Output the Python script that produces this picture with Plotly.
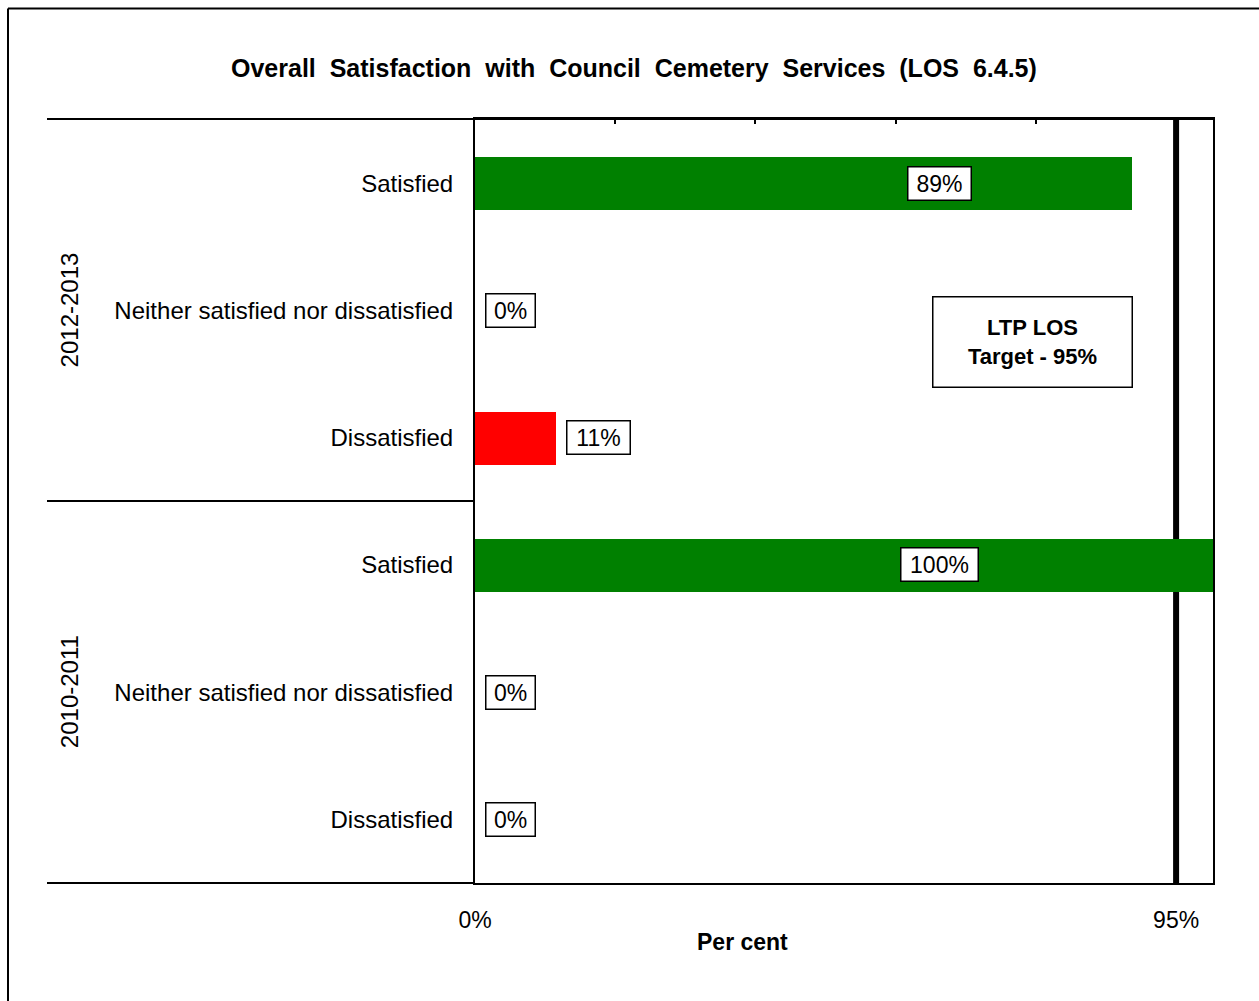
import plotly.graph_objects as go

# ---- data ----
years = ["2012-2013", "2010-2011"]
categories = ["Satisfied", "Neither satisfied nor dissatisfied", "Dissatisfied"]
values_2012_2013 = [89, 0, 11]
values_2010_2011 = [100, 0, 0]
target = 95
x_ticks = [0, 95]
x_tick_labels = ["0%", "95%"]
minor_top_ticks = [19, 38, 57, 76]

W, H = 1259, 1001
FONT = "Liberation Sans, Arial, sans-serif"


def px(x):
    return x / W


def py(y):
    return 1 - y / H


cat_colors = {"Satisfied": "#008000",
              "Neither satisfied nor dissatisfied": "#008000",
              "Dissatisfied": "#FF0000"}

series = {years[0]: values_2012_2013, years[1]: values_2010_2011}

rows_y, rows_x, rows_c, rows_lab = [], [], [], []
idx = 0
for yr in years:
    for cat, v in zip(categories, series[yr]):
        rows_y.append(idx)
        rows_x.append(v)
        rows_c.append(cat_colors[cat])
        rows_lab.append(cat)
        idx += 1

fig = go.Figure()
fig.add_trace(go.Bar(
    x=rows_x, y=rows_y, orientation="h", width=0.416,
    marker=dict(color=rows_c, line=dict(width=0)),
    hoverinfo="x+y", showlegend=False,
))
# invisible trace to activate top axis
fig.add_trace(go.Scatter(x=[0], y=[0], xaxis="x2", mode="markers",
                         marker=dict(opacity=0), showlegend=False, hoverinfo="skip"))

x0d, x1d = px(475), px(1213)
y0d, y1d = py(883), py(119.5)

fig.update_layout(
    width=W, height=H,
    margin=dict(l=0, r=0, t=0, b=0, autoexpand=False),
    paper_bgcolor="white", plot_bgcolor="white",
    font=dict(family=FONT, color="black"),
    bargap=0,
    xaxis=dict(domain=[x0d, x1d], range=[0, 100], tickvals=x_ticks, ticktext=x_tick_labels,
               showgrid=False, zeroline=False, showline=True, linecolor="black", linewidth=2,
               ticks="", ticklabelstandoff=15, tickfont=dict(size=23, family=FONT),
               automargin=False),
    xaxis2=dict(overlaying="x", side="top", range=[0, 100], tickvals=minor_top_ticks,
                showticklabels=False, ticks="inside", ticklen=4, tickwidth=1.5, tickcolor="black",
                showgrid=False, zeroline=False, showline=True, linecolor="black", linewidth=3,
                anchor="y", automargin=False),
    yaxis=dict(domain=[y0d, y1d], range=[5.5, -0.5], tickvals=rows_y, ticktext=rows_lab,
               showgrid=False, zeroline=False, showline=True, linecolor="black", linewidth=2,
               mirror=True, ticks="", ticklabelstandoff=15, tickfont=dict(size=24, family=FONT),
               automargin=False),
)

shapes = []
# target line (behind bars)
shapes.append(dict(type="line", xref="x", yref="paper", x0=target, x1=target, y0=y0d, y1=y1d,
                   line=dict(color="black", width=6), layer="below"))
# group divider lines extending left
for yy in (119, 501, 883):
    shapes.append(dict(type="line", xref="paper", yref="paper", x0=px(47), x1=px(475),
                       y0=py(yy), y1=py(yy), line=dict(color="black", width=2)))
# outer chart border
shapes.append(dict(type="line", xref="paper", yref="paper", x0=px(8), x1=px(8), y0=py(8.5), y1=0,
                   line=dict(color="black", width=2)))
shapes.append(dict(type="line", xref="paper", yref="paper", x0=px(8), x1=1, y0=py(8.5), y1=py(8.5),
                   line=dict(color="black", width=2)))
fig.update_layout(shapes=shapes)

annotations = []
annotations.append(dict(xref="paper", yref="paper", x=px(634), y=py(68),
                        text="<b>Overall\u00a0 Satisfaction\u00a0 with\u00a0 Council\u00a0 Cemetery\u00a0 Services\u00a0 (LOS\u00a0 6.4.5)</b>",
                        showarrow=False, font=dict(size=25, family=FONT), xanchor="center", yanchor="middle"))
annotations.append(dict(xref="paper", yref="paper", x=px(742), y=py(942), text="<b>Per cent</b>",
                        showarrow=False, font=dict(size=23, family=FONT), xanchor="center", yanchor="middle"))
# group labels
for gi, yr in enumerate(years):
    center_row = gi * 3 + 1
    annotations.append(dict(xref="paper", yref="y", x=px(69), y=center_row, text=yr, textangle=-90,
                            showarrow=False, font=dict(size=24, family=FONT),
                            xanchor="center", yanchor="middle"))
# data labels
for yv, v in zip(rows_y, rows_x):
    t = f"{v}%"
    w = 18 + 14 * len(t)
    if v > 50:
        annotations.append(dict(xref="x", yref="y", x=63.0, y=yv, text=t, showarrow=False,
                                xanchor="center", yanchor="middle", width=w, height=30,
                                bgcolor="white", bordercolor="black", borderwidth=1.5, borderpad=1,
                                font=dict(size=23, family=FONT)))
    else:
        annotations.append(dict(xref="x", yref="y", x=v, y=yv, text=t, showarrow=False,
                                xanchor="left", yanchor="middle", xshift=10, width=w, height=30,
                                bgcolor="white", bordercolor="black", borderwidth=1.5, borderpad=1,
                                font=dict(size=23, family=FONT)))
# target box
annotations.append(dict(xref="paper", yref="paper", x=px(1032), y=py(342),
                        text="<b>LTP LOS<br>Target - 95%</b>", showarrow=False,
                        xanchor="center", yanchor="middle", width=196, height=87,
                        bgcolor="white", bordercolor="black", borderwidth=1.5, borderpad=1,
                        font=dict(size=22, family=FONT)))
fig.update_layout(annotations=annotations)

fig.write_html("out.html")
